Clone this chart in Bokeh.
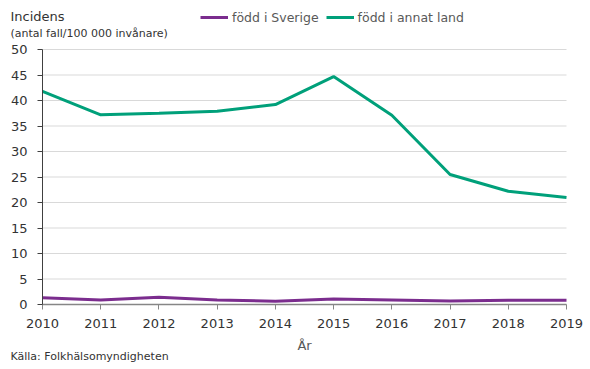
from bokeh.plotting import figure
from bokeh.models import Range1d, Legend, LegendItem, FixedTicker, ColumnDataSource, Label
from bokeh.embed import file_html
from bokeh.resources import INLINE

years = [2010, 2011, 2012, 2013, 2014, 2015, 2016, 2017, 2018, 2019]
fodd_sverige = [1.3, 0.9, 1.4, 0.9, 0.65, 1.1, 0.9, 0.7, 0.85, 0.85]
fodd_annat = [41.8, 37.2, 37.5, 37.9, 39.2, 44.7, 37.1, 25.5, 22.2, 21.0]
y_ticks = [0, 5, 10, 15, 20, 25, 30, 35, 40, 45, 50]
series_names = ["född i Sverige", "född i annat land"]

FONT = "DejaVu Sans"
DARK = "#333333"
GREY = "#595959"

W, H = 590, 369
# plot area in canvas pixels
PX0, PX1, PY0, PY1 = 42, 566, 49, 304   # left, right, top(50), bottom(0)
x0, x1 = years[0], years[-1]
y0, y1 = y_ticks[0], y_ticks[-1]
sx = (PX1 - PX0) / (x1 - x0)
sy = (PY1 - PY0) / (y1 - y0)

def dx(px):
    return x0 + (px - PX0) / sx

def dy(py):
    return y0 + (PY1 - py) / sy

p = figure(width=W, height=H, output_backend="svg", toolbar_location=None, title=None,
           x_range=Range1d(dx(0), dx(W)), y_range=Range1d(dy(H), dy(0)),
           min_border_left=0, min_border_right=0, min_border_top=0, min_border_bottom=0)
p.outline_line_color = None
p.grid.visible = False

# horizontal gridlines limited to the plot area
p.segment(x0=[x0] * len(y_ticks), x1=[x1] * len(y_ticks), y0=y_ticks, y1=y_ticks,
          line_color="#d9d9d9", line_width=1, level="underlay")

src = ColumnDataSource(dict(x=years, s=fodd_sverige, a=fodd_annat))
r1 = p.line("x", "s", source=src, line_color="#7b2d8e", line_width=3)
r2 = p.line("x", "a", source=src, line_color="#00a07a", line_width=3)

p.yaxis.fixed_location = x0
p.xaxis.fixed_location = y0
p.yaxis.bounds = (y0, y1)
p.xaxis.bounds = (x0, x1)
p.yaxis.ticker = FixedTicker(ticks=y_ticks)
p.xaxis.ticker = FixedTicker(ticks=years)
for ax in (p.xaxis, p.yaxis):
    ax.major_label_text_font = FONT
    ax.major_label_text_font_size = "13px"
    ax.major_label_text_color = DARK
    ax.minor_tick_line_color = None
    ax.major_tick_in = 0
    ax.major_tick_out = 5
p.yaxis.axis_line_color = "#404040"
p.yaxis.major_tick_line_color = "#404040"
p.xaxis.axis_line_color = "#868686"
p.xaxis.major_tick_line_color = "#868686"
p.xaxis.axis_line_width = 1.5
p.yaxis.major_label_standoff = 10
p.xaxis.major_label_standoff = 9

def add_text(px, py, text, size, color, align="left"):
    p.add_layout(Label(x=dx(px), y=dy(py), text=text, text_font=FONT, text_font_size=size,
                       text_color=color, text_align=align, text_baseline="middle"))

add_text(10, 16, "Incidens", "13px", DARK)
add_text(10, 33, "(antal fall/100 000 invånare)", "11px", DARK)
add_text((PX0 + PX1) / 2, 345, "År", "13px", GREY, align="center")
add_text(10, 356, "Källa: Folkhälsomyndigheten", "11px", DARK)

legend = Legend(items=[LegendItem(label=series_names[0], renderers=[r1]),
                       LegendItem(label=series_names[1], renderers=[r2])],
                orientation="horizontal", location=(200, H - 27),
                glyph_width=28, label_standoff=4, spacing=7, padding=0, margin=0,
                label_text_font=FONT, label_text_font_size="12.5px", label_text_color=GREY,
                background_fill_alpha=0, border_line_color=None)
p.add_layout(legend)

open("out.html", "w").write(file_html(p, INLINE))
